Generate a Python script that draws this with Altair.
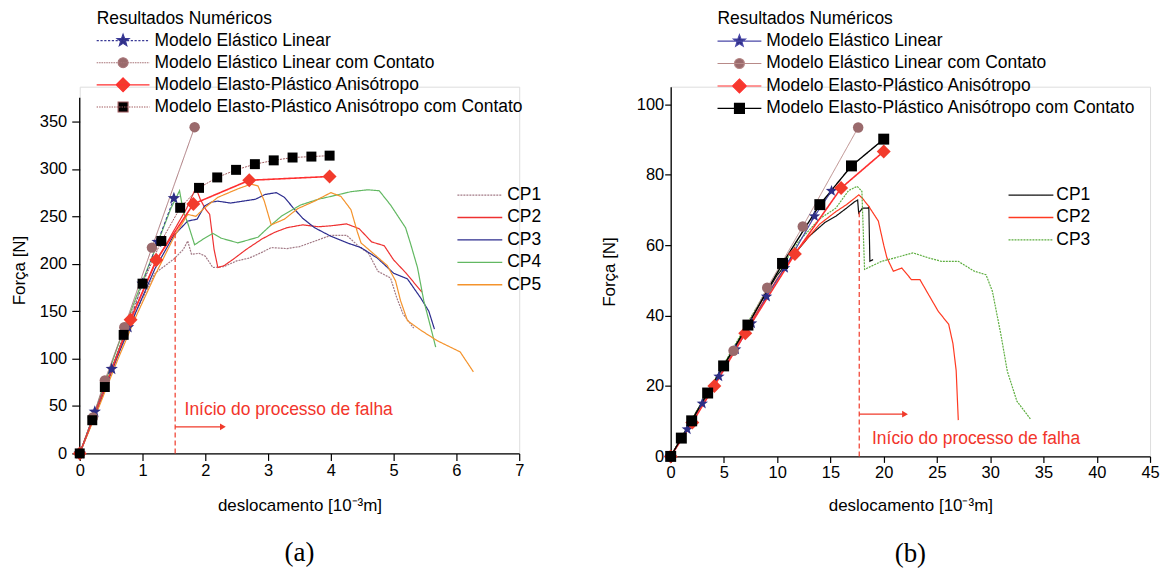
import altair as alt
import pandas as pd

FONT = "Liberation Sans"
RED_TXT = "#f2352b"

# ======================= Panel (a) data =======================
a_cp_names = ["CP1", "CP2", "CP3", "CP4", "CP5"]
a_cp_x = [
    [0, 0.3, 0.6, 0.9, 1.2, 1.5, 1.65, 1.72, 1.78, 1.9, 2.0, 2.12, 2.3, 2.5, 2.7, 2.9, 3.05, 3.3, 3.5, 3.75, 4.0, 4.25, 4.45, 4.6, 4.75, 4.95, 5.05, 5.15, 5.32],
    [0, 0.3, 0.6, 0.9, 1.2, 1.5, 1.7, 1.85, 1.92, 2.0, 2.07, 2.14, 2.2, 2.3, 2.45, 2.65, 2.9, 3.1, 3.3, 3.55, 3.8, 4.0, 4.25, 4.45, 4.65, 4.85, 5.0, 5.2, 5.35, 5.45],
    [0, 0.3, 0.6, 0.9, 1.2, 1.5, 1.72, 1.87, 1.99, 2.1, 2.2, 2.4, 2.6, 2.8, 2.95, 3.13, 3.26, 3.4, 3.55, 3.74, 4.0, 4.26, 4.48, 4.74, 5.0, 5.22, 5.43, 5.56, 5.65],
    [0, 0.3, 0.6, 0.9, 1.2, 1.45, 1.59, 1.65, 1.72, 1.83, 1.99, 2.12, 2.25, 2.52, 2.84, 3.0, 3.21, 3.52, 3.8, 4.0, 4.32, 4.59, 4.77, 4.95, 5.19, 5.27, 5.38, 5.48, 5.59, 5.67],
    [0, 0.3, 0.6, 0.9, 1.2, 1.5, 1.72, 1.85, 1.99, 2.2, 2.52, 2.73, 2.84, 2.94, 3.05, 3.26, 3.47, 3.74, 4.0, 4.16, 4.32, 4.42, 4.48, 4.69, 4.9, 5.03, 5.11, 5.22, 5.43, 5.69, 6.06, 6.27],
]
a_cp_y = [
    [0, 50, 102, 150, 190, 205, 215, 224, 210, 211, 208, 196, 197, 203, 206, 212, 217, 216, 218, 224, 230, 230, 218, 211, 192, 185, 164, 147, 132],
    [0, 52, 105, 155, 200, 235, 258, 280, 268, 258, 252, 215, 196, 198, 205, 215, 226, 233, 238, 241, 239, 240, 242, 237, 223, 219, 204, 190, 178, 170],
    [0, 50, 102, 150, 195, 230, 245, 247, 261, 265, 266, 264, 266, 268, 273, 275, 270, 259, 248, 238, 229, 222, 217, 206, 190, 184, 164, 150, 131],
    [0, 55, 112, 165, 215, 258, 277, 255, 243, 220, 227, 232, 227, 222, 228, 238, 250, 262, 268, 271, 276, 278, 277, 262, 238, 221, 196, 161, 133, 112],
    [0, 48, 98, 145, 188, 228, 252, 250, 259, 270, 279, 284, 282, 266, 241, 247, 258, 266, 275, 271, 257, 234, 222, 210, 198, 182, 161, 140, 130, 119, 107, 86],
]
a_cp_colors = ["#a27a86", "#ee3131", "#2c2c8e", "#62b862", "#f4932c"]
a_cp_dash = [[2, 1], [1, 0], [1, 0], [1, 0], [1, 0]]

model_names = [
    "Modelo Elástico Linear",
    "Modelo Elástico Linear com Contato",
    "Modelo Elasto-Plástico Anisótropo",
    "Modelo Elasto-Plástico Anisótropo com Contato",
]
a_model_x = [
    [0, 0.24, 0.51, 0.77, 1.0, 1.24, 1.5],
    [0, 0.21, 0.40, 0.71, 1.15, 1.83],
    [0, 0.81, 1.22, 1.81, 2.70, 3.98],
    [0, 0.2, 0.4, 0.7, 1.0, 1.3, 1.6, 1.9, 2.19, 2.49, 2.79, 3.09, 3.39, 3.69, 3.98],
]
a_model_y = [
    [0, 44, 89, 133, 179, 223, 269],
    [0, 38, 77, 133, 217, 344],
    [0, 141, 204, 263, 288, 292],
    [0, 35, 70, 125, 179, 224, 259, 280, 291, 299, 305, 309, 312, 313, 314],
]

# ======================= Panel (b) data =======================
b_cp_names = ["CP1", "CP2", "CP3"]
b_cp_x = [
    [0, 2, 4, 6, 8, 10, 11.5, 13, 14.5, 15.5, 16.5, 17.3, 17.55, 17.65, 18.0, 18.5, 18.6, 18.7, 19.0],
    [0, 2, 4, 6, 8, 10, 12, 14, 15.5, 16.5, 17.3, 17.66, 18.0, 18.6, 19.5, 20.0, 20.3, 20.9, 21.7, 22.6, 23.4, 24.2, 25.1, 26.1, 26.5, 26.8, 27.0],
    [0, 2, 4, 6, 8, 10, 12, 14, 15.5, 16.7, 17.5, 17.95, 18.1, 18.2, 19.8, 21.05, 22.75, 24.2, 25.4, 27.0, 28.5, 29.6, 30.2, 31.0, 31.6, 32.5, 33.8],
]
b_cp_y = [
    [0, 10.5, 21, 31, 41.5, 51.5, 57, 62.5, 66.5, 68.2, 70.5, 72.4, 72.8, 69.1, 70.5, 70.5, 70.8, 55.4, 55.9],
    [0, 10.3, 20.5, 30.5, 40.5, 50.5, 59, 66, 69.5, 71.5, 73.4, 74.3, 73.3, 71, 66.8, 60, 56.4, 52.6, 53.5, 50.2, 50.2, 46, 41.3, 37.5, 32, 24.4, 10.3],
    [0, 10.5, 21, 31.5, 42, 52, 61, 67.5, 70.5, 75.5, 76.7, 75.3, 62, 53.1, 55.4, 56.4, 57.8, 56.4, 55.4, 55.4, 52.6, 51.6, 46.9, 34.6, 24.2, 15.7, 10.5],
]
b_cp_colors = ["#111111", "#ff3a22", "#5eae40"]
b_cp_dash = [[1, 0], [1, 0], [2, 1]]

b_model_x = [
    [0, 1.56, 2.97, 4.53, 6.1, 7.6, 9.0, 10.7, 13.5, 15.1],
    [0, 5.9, 9.06, 12.4, 17.6],
    [0, 2.03, 4.1, 7.0, 11.66, 16.0, 20.0],
    [0, 1.0, 1.97, 3.47, 4.97, 7.25, 10.5, 14.0, 16.97, 20.0],
]
b_model_y = [
    [0, 7.7, 15, 22.7, 30.4, 37.8, 45.4, 53.5, 68.2, 75.4],
    [0, 30, 47.9, 65.3, 93.4],
    [0, 9.6, 20, 35, 57.5, 76.2, 86.6],
    [0, 5.2, 10.1, 18, 25.7, 37.3, 54.8, 71.5, 82.5, 90.1],
]

# annotation values (data coordinates)
a_fail_x = 1.52
a_fail_top = 235
a_arrow = (1.52, 2.28, 28)
a_text = (1.67, 41)
b_fail_x = 17.7
b_fail_top = 70
b_arrow = (17.7, 22.0, 12)
b_text = (18.9, 3.6)
fail_label = "Início do processo de falha"

# ======================= styles =======================
marker_fill = ["#2e2e86", "#9a6a6c", "#f23b2c", "#000000"]
a_line_color = ["#3a3a96", "#a9767a", "#ff2f2f", "#a0595c"]
a_line_dash = [[3, 2], [1, 0], [1, 0], [2, 1]]
a_line_width = [1.0, 1.0, 1.6, 1.0]
b_line_color = ["#4a48a8", "#b88a88", "#ff3030", "#000000"]
b_line_dash = [[1, 0], [1, 0], [1, 0], [1, 0]]
b_line_width = [1.2, 1.0, 1.6, 1.4]

STAR = [(0, -1), (0.247, -0.34), (0.951, -0.309), (0.399, 0.13), (0.588, 0.809),
        (0, 0.42), (-0.588, 0.809), (-0.399, 0.13), (-0.951, -0.309), (-0.247, -0.34)]
KINDS = ["star", "circle", "diamond", "square"]
RADII = {"star": 6.5, "circle": 5.0, "diamond": 7.0, "square": 5.0}

# legend symbol geometry: nominal symbol size 16 -> 2 px per path unit;
# the symbol centre sits half an entry (17.5/2 px) from the legend's left edge
SYM_SIZE = 16
UNIT = 2.0
CEN = 8.75
LEG_FS = 17.5


def poly_path(pts, s, ox=0.0):
    return "M" + "L".join(f"{x*s+ox:.3f},{y*s:.3f}" for x, y in pts) + "Z"


def marker_path(kind, s, ox=0.0):
    if kind == "star":
        return poly_path(STAR, s, ox)
    if kind == "circle":
        return (f"M{ox-s:.3f},0A{s:.3f},{s:.3f},0,1,0,{ox+s:.3f},0"
                f"A{s:.3f},{s:.3f},0,1,0,{ox-s:.3f},0Z")
    if kind == "diamond":
        return poly_path([(0, -1), (1, 0), (0, 1), (-1, 0)], s, ox)
    return poly_path([(-1, -1), (1, -1), (1, 1), (-1, 1)], s, ox)


def line_path(L, dash=None):
    a = -CEN / UNIT
    b = (L - CEN) / UNIT
    if dash is None:
        return f"M{a:.3f},0L{b:.3f},0"
    d, g = dash[0] / UNIT, dash[1] / UNIT
    out, p = [], a
    while p < b:
        e = min(p + d, b)
        out.append(f"M{p:.3f},0L{e:.3f},0")
        p = e + g
    return "".join(out)


def legend_paths(L, dashes):
    mid = (L / 2.0 - CEN) / UNIT
    return [line_path(L, dashes[k]) + marker_path(KINDS[k], RADII[KINDS[k]] / UNIT, mid)
            for k in range(4)]


def long_df(names, xs, ys, key):
    rows = []
    for n, xx, yy in zip(names, xs, ys):
        for i, (a, b) in enumerate(zip(xx, yy)):
            rows.append({key: n, "x": a, "y": b, "i": i})
    return pd.DataFrame(rows)


def make_axis(step_major, step_minor, vtop, title, major_tick=7, minor_tick=4, **kw):
    n = int(round(vtop / step_minor))
    vals = [round(k * step_minor, 4) for k in range(n + 1)]
    test = f"abs(datum.value/{step_major} - round(datum.value/{step_major})) < 0.000001"
    return alt.Axis(
        values=vals,
        labelExpr=f"({test}) ? format(datum.value, 'd') : ''",
        tickSize={"condition": {"test": test, "value": major_tick}, "value": minor_tick},
        title=title, grid=False, labelOverlap=False, labelFlush=False,
        domainColor="black", domainWidth=1.3, tickColor="black", tickWidth=1.2,
        labelColor="black", labelFont=FONT, labelFontSize=16.5,
        titleFont=FONT, titleFontSize=17, titleFontWeight="normal", titleColor="black",
        **kw,
    )


def panel(tag, cp_names, cp_x, cp_y, cp_colors, cp_dash, m_x, m_y,
          line_color, line_dash, line_width, marker_sizes,
          xmax, xmaj, xmin, ydom, ytop, ymaj, ymin, width, height,
          leg_model, leg_cp, Lm, m_lab_off, cp_lab_off, leg_dashes, row_pad, title_pad,
          fail_x, fail_top, arrow, text, caption, cap_off, yaxis_kw, xaxis_kw, draw_ydomain):
    cpk = "cp" + tag
    mk = "m" + tag
    cdf = long_df(cp_names, cp_x, cp_y, cpk)
    mdf = long_df(model_names, m_x, m_y, mk)
    X = alt.X("x:Q", scale=alt.Scale(domain=[0, xmax], nice=False, zero=False),
              axis=make_axis(xmaj, xmin, xmax, "deslocamento [10⁻³m]", **xaxis_kw))
    Y = alt.Y("y:Q", scale=alt.Scale(domain=[0, ydom], nice=False, zero=False),
              axis=make_axis(ymaj, ymin, ytop, "Força [N]", **yaxis_kw))

    cp_leg = alt.Legend(title=None, orient="none", legendX=leg_cp[0], legendY=leg_cp[1],
                        symbolType=line_path(45), symbolSize=SYM_SIZE, symbolStrokeWidth=1.3,
                        labelFont=FONT, labelFontSize=LEG_FS, labelColor="black",
                        labelOffset=cp_lab_off, rowPadding=3.5, padding=0, labelLimit=0)
    cp_layer = alt.Chart(cdf).mark_line(strokeWidth=1.2).encode(
        x=X, y=Y,
        color=alt.Color(f"{cpk}:N", scale=alt.Scale(domain=cp_names, range=cp_colors), legend=cp_leg),
        strokeDash=alt.StrokeDash(f"{cpk}:N", scale=alt.Scale(domain=cp_names, range=cp_dash), legend=cp_leg),
        order="i:Q",
    )

    layers = [cp_layer]
    if draw_ydomain:
        ddf = pd.DataFrame({"x": [0], "y": [0], "y2": [ytop]})
        layers.append(alt.Chart(ddf).mark_rule(color="black", strokeWidth=1.3).encode(
            x="x:Q", y="y:Q", y2="y2:Q"))
    for k, name in enumerate(model_names):
        base = alt.Chart(mdf).transform_filter(alt.datum[mk] == name)
        layers.append(base.mark_line(color=line_color[k], strokeDash=line_dash[k],
                                     strokeWidth=line_width[k]).encode(x="x:Q", y="y:Q", order="i:Q"))
    for k, name in enumerate(model_names):
        base = alt.Chart(mdf).transform_filter(alt.datum[mk] == name)
        shp = marker_path("star", 1.0) if KINDS[k] == "star" else KINDS[k]
        layers.append(base.mark_point(shape=shp, filled=True, opacity=1, size=marker_sizes[k],
                                      color=marker_fill[k], strokeWidth=0).encode(x="x:Q", y="y:Q"))

    m_leg = alt.Legend(title="Resultados Numéricos", orient="none", legendX=leg_model[0],
                       legendY=leg_model[1], symbolSize=SYM_SIZE, symbolStrokeWidth=1.1,
                       labelFont=FONT, labelFontSize=LEG_FS, labelColor="black", labelLimit=0,
                       labelOffset=m_lab_off, rowPadding=row_pad, padding=0, titlePadding=title_pad,
                       titleFont=FONT, titleFontSize=LEG_FS, titleFontWeight="normal",
                       titleColor="black", titleLimit=0)
    legend_layer = alt.Chart(mdf).transform_filter("false").mark_point(
        filled=True, opacity=1, strokeWidth=1.1).encode(
        x="x:Q", y="y:Q",
        fill=alt.Fill(f"{mk}:N", scale=alt.Scale(domain=model_names, range=marker_fill), legend=m_leg),
        stroke=alt.Stroke(f"{mk}:N", scale=alt.Scale(domain=model_names, range=line_color), legend=m_leg),
        shape=alt.Shape(f"{mk}:N", scale=alt.Scale(domain=model_names, range=legend_paths(Lm, leg_dashes)),
                        legend=m_leg),
    )
    layers.append(legend_layer)

    fdf = pd.DataFrame({"x": [fail_x], "y": [0], "y2": [fail_top]})
    layers.append(alt.Chart(fdf).mark_rule(color="#f03a2a", strokeDash=[5, 3], strokeWidth=1.2).encode(
        x="x:Q", y="y:Q", y2="y2:Q"))
    adf = pd.DataFrame({"x": [arrow[0]], "x2": [arrow[1]], "y": [arrow[2]]})
    layers.append(alt.Chart(adf).mark_rule(color="#f03a2a", strokeWidth=1.2).encode(
        x="x:Q", x2="x2:Q", y="y:Q"))
    hdf = pd.DataFrame({"x": [arrow[1]], "y": [arrow[2]]})
    layers.append(alt.Chart(hdf).mark_point(shape="triangle-right", filled=True, opacity=1, size=45,
                                            color="#f03a2a").encode(x="x:Q", y="y:Q"))
    tdf = pd.DataFrame({"x": [text[0]], "y": [text[1]], "t": [fail_label]})
    layers.append(alt.Chart(tdf).mark_text(align="left", baseline="alphabetic", font=FONT,
                                           fontSize=17.5, color=RED_TXT).encode(
        x="x:Q", y="y:Q", text="t:N"))

    return alt.layer(*layers).properties(
        width=width, height=height,
        title=alt.TitleParams(caption, orient="bottom", font="Liberation Serif", fontSize=27,
                              fontWeight="normal", color="black", offset=cap_off),
    )


pa = panel("a", a_cp_names, a_cp_x, a_cp_y, a_cp_colors, a_cp_dash, a_model_x, a_model_y,
           a_line_color, a_line_dash, a_line_width, [169, 110, 196, 100],
           7, 1, 0.5, 386.7, 375, 50, 25, 441, 368,
           (17, -77), (379, 100), 53, 40.5, 32.5,
           [(2.2, 1.6), (1.6, 0.8), None, (1.4, 1.1)], 3.2, 4.5,
           a_fail_x, a_fail_top, a_arrow, a_text, "(a)", 26,
           dict(major_tick=8, labelPadding=5, titlePadding=11, domain=False),
           dict(major_tick=7, labelPadding=2, titlePadding=19), True)
pb = panel("b", b_cp_names, b_cp_x, b_cp_y, b_cp_colors, b_cp_dash, b_model_x, b_model_y,
           b_line_color, b_line_dash, b_line_width, [144, 110, 196, 121],
           45, 5, 2.5, 105, 105, 10, 5, 481, 371,
           (47, -77), (339, 100), 44, 31.5, 30.5,
           [None, None, None, None], 3.5, 5,
           b_fail_x, b_fail_top, b_arrow, b_text, "(b)", 27,
           dict(major_tick=6, labelPadding=1, titlePadding=18),
           dict(major_tick=6, labelPadding=2, titlePadding=17), False)

chart = alt.hconcat(pa, pb, spacing=56).resolve_scale(
    color="independent", fill="independent", stroke="independent",
    shape="independent", strokeDash="independent"
).properties(padding={"left": 9, "top": 8, "right": 0, "bottom": 0}).configure_view(
    stroke=None).configure(background="white")

chart.save("out.html", embed_options={"renderer": "svg", "actions": False})
